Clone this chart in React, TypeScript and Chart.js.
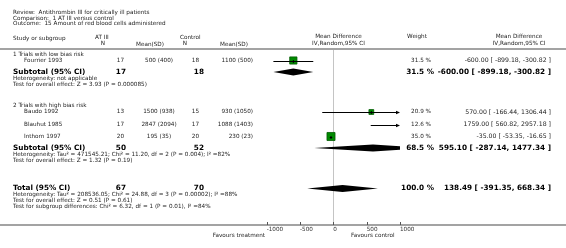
import React, { useEffect, useRef } from 'react';
import { Chart, registerables } from 'chart.js';
Chart.register(...registerables);

// ---------- data ----------
const headerLines = [
  'Review:  Antithrombin III for critically ill patients',
  'Comparison:  1 AT III versus control',
  'Outcome:  15 Amount of red blood cells administered',
];
const studyNames = ['Fourrier 1993', 'Baudo 1992', 'Blauhut 1985', 'Inthorn 1997'];
const trtN = [17, 13, 17, 20];
const trtMean = [500, 1500, 2847, 195];
const trtSD = [400, 938, 2094, 35];
const ctlN = [18, 15, 17, 20];
const ctlMean = [1100, 930, 1088, 230];
const ctlSD = [500, 1050, 1403, 23];
const weights = [31.5, 20.9, 12.6, 35.0];
const md = [-600.0, 570.0, 1759.0, -35.0];
const mdLo = [-899.18, -166.44, 560.82, -53.35];
const mdHi = [-300.82, 1306.44, 2957.18, -16.65];

const groupNames = ['1 Trials with low bias risk', '2 Trials with high bias risk'];
const subTrtN = [17, 50];
const subCtlN = [18, 52];
const subWeight = [31.5, 68.5];
const subMd = [-600.0, 595.1];
const subLo = [-899.18, -287.14];
const subHi = [-300.82, 1477.34];
const subHet = [
  'Heterogeneity: not applicable',
  'Heterogeneity: Tau\u00b2 = 471545.21; Chi\u00b2 = 11.20, df = 2 (P = 0.004); I\u00b2 =82%',
];
const subTest = [
  'Test for overall effect: Z = 3.93 (P = 0.000085)',
  'Test for overall effect: Z = 1.32 (P = 0.19)',
];
const totalTrtN = 67;
const totalCtlN = 70;
const totalWeight = 100.0;
const totalMd = 138.49;
const totalLo = -391.35;
const totalHi = 668.34;
const totalNotes = [
  'Heterogeneity: Tau\u00b2 = 208536.05; Chi\u00b2 = 24.88, df = 3 (P = 0.00002); I\u00b2 =88%',
  'Test for overall effect: Z = 0.51 (P = 0.61)',
  'Test for subgroup differences: Chi\u00b2 = 6.32, df = 1 (P = 0.01), I\u00b2 =84%',
];
const axisMin = -1000;
const axisMax = 1000;
const axisStep = 500;
const favours = ['Favours treatment', 'Favours control'];

// ---------- layout (page pixels) ----------
const W = 566;
const H = 248;
const TOP = 49;
const BOTTOM = 225;
const PLOT_L = 266.67;
const PLOT_R = 400;
const studyRowY = [60.5, 112, 124.5, 136.5];
const groupTitleY = [54.5, 106];
const subtotalY = [72, 148];
const hetY = [78.5, 154.5];
const testY = [85, 160.5];
const totalY = 188.5;
const totalNoteY = [195, 201, 207];

const FONT = '"DejaVu Sans", Verdana, sans-serif';
const TXT = '#222';

export default function App() {
  const ref = useRef<HTMLCanvasElement>(null);

  useEffect(() => {
    const canvas = ref.current!;

    const forestPlugin = {
      id: 'forest',
      afterDatasetsDraw(chart: any) {
        const ctx = chart.ctx as CanvasRenderingContext2D;
        const xs = chart.scales.x;
        const ys = chart.scales.y;
        const area = chart.chartArea;
        const px = (v: number) => xs.getPixelForValue(v);
        const py = (v: number) => ys.getPixelForValue(v);
        ctx.save();
        ctx.beginPath();
        ctx.rect(area.left, area.top, area.right - area.left, area.bottom - area.top);
        ctx.clip();
        // CI lines
        ctx.strokeStyle = '#000';
        ctx.fillStyle = '#000';
        ctx.lineWidth = 1;
        for (let i = 0; i < studyNames.length; i++) {
          const y = Math.round(py(studyRowY[i])) + 0.5;
          const x1 = Math.max(px(mdLo[i]), area.left);
          const rightOver = px(mdHi[i]) > area.right;
          const x2 = Math.min(px(mdHi[i]), area.right);
          ctx.beginPath();
          ctx.moveTo(x1, y);
          ctx.lineTo(rightOver ? x2 - 3 : x2, y);
          ctx.stroke();
          if (rightOver) {
            ctx.beginPath();
            ctx.moveTo(x2, y);
            ctx.lineTo(x2 - 4, y - 1.8);
            ctx.lineTo(x2 - 4, y + 1.8);
            ctx.closePath();
            ctx.fill();
          }
          const cx = px(md[i]);
          if (cx >= area.left && cx <= area.right) {
            ctx.fillRect(cx - 0.5, y - 1.5, 1, 3);
          }
        }
        // diamonds
        const diamond = (lo: number, est: number, hi: number, yv: number) => {
          const y = py(yv);
          const h = 3.4;
          ctx.beginPath();
          ctx.moveTo(px(lo), y);
          ctx.lineTo(px(est), y - h);
          ctx.lineTo(px(hi), y);
          ctx.lineTo(px(est), y + h);
          ctx.closePath();
          ctx.fill();
        };
        for (let g = 0; g < groupNames.length; g++) diamond(subLo[g], subMd[g], subHi[g], subtotalY[g]);
        diamond(totalLo, totalMd, totalHi, totalY);
        ctx.restore();
      },
      afterDraw(chart: any) {
        const ctx = chart.ctx as CanvasRenderingContext2D;
        const xs = chart.scales.x;
        ctx.save();
        // gray rules
        ctx.fillStyle = '#a3a3a3';
        ctx.fillRect(0, TOP - 1, W, 2);
        ctx.fillRect(0, BOTTOM - 1, W, 2);
        // tick marks
        ctx.fillStyle = '#555';
        for (let v = axisMin; v <= axisMax; v += axisStep) {
          const x = Math.round(xs.getPixelForValue(v));
          ctx.fillRect(x, BOTTOM - 3, 1, 3);
        }
        const t = (s: string, x: number, y: number, size: number, align: CanvasTextAlign = 'left', bold = false, color = TXT) => {
          ctx.font = `${bold ? 'bold ' : ''}${size}px ${FONT}`;
          ctx.fillStyle = color;
          ctx.textAlign = align;
          ctx.textBaseline = 'middle';
          ctx.fillText(s, x, y);
        };
        const S = 5.7;
        const R = 6.2;
        const B = 7.3;
        // title block
        t(headerLines[0], 13, 13, S);
        t(headerLines[1], 13, 18.5, S);
        t(headerLines[2], 13, 24, S);
        // column headers
        t('Study or subgroup', 13, 38.5, S);
        t('AT III', 95, 37.5, S);
        t('N', 103, 44, S, 'center');
        t('Mean(SD)', 150, 44.5, S, 'center');
        t('Control', 180, 37.5, S);
        t('N', 185, 44, S, 'center');
        t('Mean(SD)', 234, 44.5, S, 'center');
        t('Mean Difference', 338.5, 37, S, 'center');
        t('IV,Random,95% CI', 338.5, 44, S, 'center');
        t('Weight', 417, 37, S, 'center');
        t('Mean Difference', 519, 37, S, 'center');
        t('IV,Random,95% CI', 519, 44, S, 'center');

        const fmt2 = (v: number) => v.toFixed(2);
        const ciText = (e: number, l: number, h: number) => `${fmt2(e)} [ ${fmt2(l)}, ${fmt2(h)} ]`;
        const groupStudies = [[0], [1, 2, 3]];
        for (let g = 0; g < groupNames.length; g++) {
          t(groupNames[g], 13, groupTitleY[g], S);
          for (const i of groupStudies[g]) {
            const y = studyRowY[i];
            t(studyNames[i], 24, y, S);
            t(String(trtN[i]), 124, y, S, 'right');
            t(`${trtMean[i]} (${trtSD[i]})`, 159, y, S, 'center');
            t(String(ctlN[i]), 199, y, S, 'right');
            t(`${ctlMean[i]} (${ctlSD[i]})`, 253, y, S, 'right');
            t(`${weights[i].toFixed(1)} %`, 431, y, S, 'right');
            t(ciText(md[i], mdLo[i], mdHi[i]), 551, y, R, 'right');
          }
          const y = subtotalY[g];
          t('Subtotal (95% CI)', 13, y, B, 'left', true, '#000');
          t(String(subTrtN[g]), 126, y, B, 'right', true, '#000');
          t(String(subCtlN[g]), 204, y, B, 'right', true, '#000');
          t(`${subWeight[g].toFixed(1)} %`, 434, y, B, 'right', true, '#000');
          t(ciText(subMd[g], subLo[g], subHi[g]), 551, y, B, 'right', true, '#000');
          t(subHet[g], 13, hetY[g], S);
          t(subTest[g], 13, testY[g], S);
        }
        t('Total (95% CI)', 13, totalY, B, 'left', true, '#000');
        t(String(totalTrtN), 126, totalY, B, 'right', true, '#000');
        t(String(totalCtlN), 204, totalY, B, 'right', true, '#000');
        t(`${totalWeight.toFixed(1)} %`, 434, totalY, B, 'right', true, '#000');
        t(ciText(totalMd, totalLo, totalHi), 551, totalY, B, 'right', true, '#000');
        for (let k = 0; k < totalNotes.length; k++) t(totalNotes[k], 13, totalNoteY[k], S);

        t(favours[0], 265, 235.5, S, 'right');
        t(favours[1], 351, 235.5, S, 'left');
        ctx.restore();
      },
    };

    const chart = new Chart(canvas, {
      type: 'scatter',
      data: {
        datasets: [
          {
            data: studyNames.map((_, i) => ({ x: md[i], y: studyRowY[i] })),
            pointStyle: 'rect',
            pointRadius: weights.map((w) => (w * 0.23) / Math.SQRT2),
            pointHoverRadius: weights.map((w) => (w * 0.23) / Math.SQRT2),
            backgroundColor: '#008a00',
            borderColor: '#005c00',
            borderWidth: 0.8,
            clip: 0,
          } as any,
        ],
      },
      options: {
        responsive: false,
        animation: false,
        events: [],
        layout: { padding: { left: PLOT_L, right: W - PLOT_R, top: TOP, bottom: 0 } },
        plugins: { legend: { display: false }, tooltip: { enabled: false } },
        scales: {
          x: {
            type: 'linear',
            min: axisMin,
            max: axisMax,
            afterFit: (s: any) => {
              s.height = H - BOTTOM;
            },
            border: { display: false },
            grid: {
              drawTicks: false,
              color: (c: any) => (c.tick && c.tick.value === 0 ? '#c4c4c4' : 'rgba(0,0,0,0)'),
              lineWidth: 1,
            },
            ticks: {
              stepSize: axisStep,
              align: 'start',
              padding: 1.5,
              color: '#333',
              font: { family: FONT, size: 5.7 },
              callback: (v: any) => String(v),
              maxRotation: 0,
              autoSkip: false,
            },
          },
          y: {
            type: 'linear',
            display: false,
            min: TOP,
            max: BOTTOM,
            reverse: true,
          },
        },
      },
      plugins: [forestPlugin],
    });
    return () => chart.destroy();
  }, []);

  return (
    <div style={{ position: 'fixed', left: 0, top: 0, width: W, height: H, background: '#fff' }}>
      <canvas ref={ref} width={W} height={H} style={{ display: 'block', width: W, height: H }} />
    </div>
  );
}
